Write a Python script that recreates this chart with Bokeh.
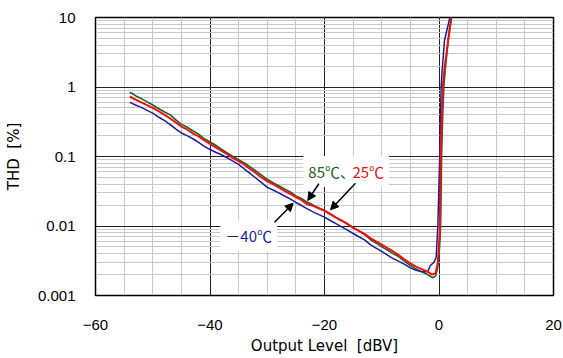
from bokeh.plotting import figure
from bokeh.models import FixedTicker, Range1d, Label, Arrow, NormalHead
from bokeh.embed import file_html
from bokeh.resources import INLINE

# THD vs output level, measured at three ambient temperatures
level_85 = [-54, -53, -52, -51, -50, -49, -48, -47, -46, -45, -44, -43, -42, -41, -40,
            -39, -38, -37, -36, -35, -34, -33, -32, -31, -30, -29, -28, -27, -26, -25,
            -24, -23, -22, -21, -20, -19, -18, -17, -16, -15, -14, -13, -12, -11, -10,
            -9, -8, -7, -6, -5, -4, -3, -2, -1.1, -0.6, -0.2, 0.1, 0.28, 0.45, 0.65,
            0.84, 1.2, 1.6, 2.2]
thd_85 = [0.84, 0.75, 0.68, 0.61, 0.55, 0.49, 0.44, 0.40, 0.34, 0.29, 0.265, 0.235, 0.21,
          0.18, 0.162, 0.145, 0.128, 0.113, 0.100, 0.090, 0.081, 0.071, 0.062, 0.054,
          0.047, 0.042, 0.038, 0.034, 0.031, 0.027, 0.0248, 0.022, 0.0200, 0.0182,
          0.0168, 0.0150, 0.0133, 0.0120, 0.0108, 0.0095, 0.0085, 0.0075, 0.0064,
          0.0057, 0.0050, 0.0045, 0.0040, 0.0036, 0.0031, 0.0027, 0.0024, 0.0022,
          0.0020, 0.0018, 0.0019, 0.0026, 0.005, 0.01, 0.1, 0.4, 1.0, 2.2, 4.67, 10]

level_25 = [-54, -53, -52, -51, -50, -49, -48, -47, -46, -45, -44, -43, -42, -41, -40,
            -39, -38, -37, -36, -35, -34, -33, -32, -31, -30, -29, -28, -27, -26, -25,
            -24, -23, -22, -21, -20, -19, -18, -17, -16, -15, -14, -13, -12, -11, -10,
            -9, -8, -7, -6, -5, -4, -3, -2, -1.2, -0.6, -0.2, 0.0, 0.17, 0.3, 0.5,
            0.66, 1.0, 1.3, 1.7, 2.13]
thd_25 = [0.73, 0.66, 0.60, 0.55, 0.50, 0.45, 0.40, 0.355, 0.31, 0.27, 0.245, 0.215,
          0.195, 0.17, 0.152, 0.135, 0.12, 0.108, 0.095, 0.086, 0.076, 0.066, 0.058,
          0.050, 0.044, 0.040, 0.036, 0.032, 0.029, 0.026, 0.0235, 0.0205, 0.0195,
          0.0180, 0.0165, 0.0148, 0.0132, 0.0119, 0.0107, 0.0094, 0.0085, 0.0077,
          0.0067, 0.0060, 0.0054, 0.0048, 0.0043, 0.0038, 0.0033, 0.0029, 0.0026,
          0.0024, 0.0022, 0.0020, 0.0021, 0.0030, 0.0055, 0.01, 0.1, 0.4, 1.0, 2.0,
          3.0, 5.5, 10]

level_m40 = [-54, -53, -52, -51, -50, -49, -48, -47, -46, -45, -44, -43, -42, -41, -40,
             -39, -38, -37, -36, -35, -34, -33, -32, -31, -30, -29, -28, -27, -26, -25,
             -24, -23, -22, -21, -20, -19, -18, -17, -16, -15, -14, -13, -12, -11, -10,
             -9, -8, -7, -6, -5, -4, -3, -2, -1.5, -0.9, -0.5, -0.2, 0.12, 0.37, 0.55,
             0.96, 1.9]
thd_m40 = [0.60, 0.55, 0.51, 0.46, 0.42, 0.37, 0.33, 0.29, 0.25, 0.218, 0.2, 0.18, 0.16,
           0.14, 0.126, 0.115, 0.106, 0.096, 0.086, 0.077, 0.066, 0.057, 0.049, 0.042,
           0.036, 0.033, 0.030, 0.027, 0.0245, 0.0218, 0.0197, 0.0176, 0.0160, 0.0146,
           0.0134, 0.0120, 0.0108, 0.0097, 0.0087, 0.0078, 0.0070, 0.0063, 0.0054,
           0.0048, 0.0043, 0.0038, 0.0034, 0.0031, 0.0028, 0.0025, 0.0023, 0.0022,
           0.0022, 0.0027, 0.0030, 0.0035, 0.0100, 0.1, 1.0, 1.73, 4.67, 10]

x_ticks = [-60, -40, -20, 0, 20]
x_tick_labels = ["\u221260", "\u221240", "\u221220", "0", "20"]
y_ticks = [0.001, 0.01, 0.1, 1, 10]
y_tick_labels = ["0.001", "0.01", "0.1", "1", "10"]

LABEL_FONT = "DejaVu Sans"
NOTE_FONT = "Noto Sans CJK JP"
NAVY = "#1c1c9c"
GREEN = "#1f5f1f"
RED = "#ee1111"

p = figure(width=563, height=358, output_backend="svg", toolbar_location=None,
           x_range=Range1d(-60, 20), y_range=Range1d(0.001, 10), y_axis_type="log",
           min_border_left=95, min_border_right=10, min_border_top=17,
           min_border_bottom=63, background_fill_color="white",
           border_fill_color="white")

p.outline_line_color = "black"
p.outline_line_width = 1.5

p.xaxis.ticker = FixedTicker(ticks=x_ticks, minor_ticks=list(range(-60, 21, 5)))
p.yaxis.ticker = FixedTicker(
    ticks=y_ticks,
    minor_ticks=[k * 10.0 ** e for e in range(-3, 1) for k in range(2, 10)])
p.xaxis.major_label_overrides = {t: s for t, s in zip(x_ticks, x_tick_labels)}
p.yaxis.major_label_overrides = {t: s for t, s in zip(y_ticks, y_tick_labels)}

for ax in (p.xaxis, p.yaxis):
    ax.major_tick_line_color = None
    ax.minor_tick_line_color = None
    ax.axis_line_color = "black"
    ax.major_label_text_font = "Liberation Sans"
    ax.major_label_text_font_size = "15px"
    ax.major_label_text_color = "black"
    ax.axis_label_text_font = LABEL_FONT
    ax.axis_label_text_font_size = "15px"
    ax.axis_label_text_font_style = "normal"
    ax.axis_label_text_color = "black"

p.xaxis.axis_label = "Output Level\u00a0\u00a0[dBV]"
p.yaxis.axis_label = "THD\u00a0\u00a0[%]"
p.xaxis.major_label_standoff = 18
p.xaxis.axis_label_standoff = 4
p.yaxis.major_label_standoff = 14
p.yaxis.axis_label_standoff = 12

for g in (p.xgrid, p.ygrid):
    g.grid_line_color = "#222222"
    g.grid_line_width = 1
    g.minor_grid_line_color = "#c8c8c8"
    g.minor_grid_line_width = 1

p.line(level_85, thd_85, line_color=GREEN, line_width=1.6)
p.line(level_m40, thd_m40, line_color=NAVY, line_width=1.5)
p.line(level_25, thd_25, line_color=RED, line_width=2)

# callouts
label_style = dict(text_font=NOTE_FONT, text_font_size="15px", text_baseline="middle",
                   background_fill_color="white", padding=5)
p.add_layout(Label(x=-23.7, y=0.061, text="85\u2103\u3001", text_color=GREEN,
                   **label_style))
p.add_layout(Label(x=-16.0, y=0.061, text="25\u2103", text_color=RED, **label_style))
p.add_layout(Label(x=-38.2, y=0.0073, text="\uff0d40\u2103", text_color=NAVY,
                   **label_style))

for xs, ys, xe, ye in [(-20.99, 0.0405, -22.92, 0.0233),
                       (-14.59, 0.0413, -18.95, 0.0171),
                       (-28.73, 0.01135, -25.47, 0.0213)]:
    p.add_layout(Arrow(x_start=xs, y_start=ys, x_end=xe, y_end=ye, line_width=1.5,
                       line_color="black",
                       end=NormalHead(size=8, fill_color="black", line_color="black")))

open("out.html", "w").write(file_html(p, INLINE))
